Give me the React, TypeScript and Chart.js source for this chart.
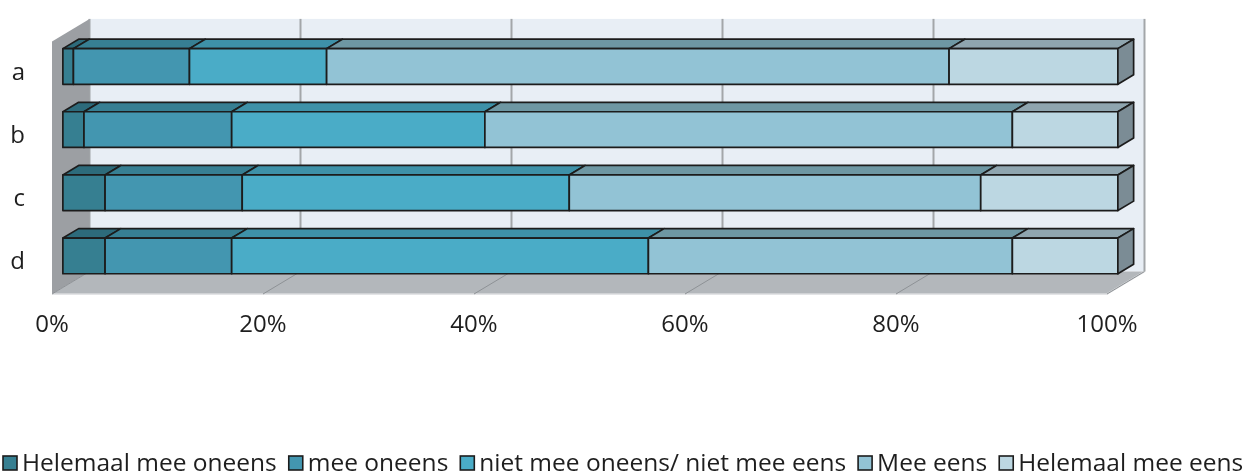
import { useEffect, useRef } from "react";
import { Chart, registerables } from "chart.js";

Chart.register(...registerables);

// Survey statements and answer distribution (percent per statement)
const categories = ["a", "b", "c", "d"];
const seriesNames = [
  "Helemaal mee oneens",
  "mee oneens",
  "niet mee oneens/ niet mee eens",
  "Mee eens",
  "Helemaal mee eens",
];
const helemaalOneens = [1, 2, 4, 4];
const meeOneens = [11, 14, 13, 12];
const neutraal = [13, 24, 31, 39.5];
const meeEens = [59, 50, 39, 34.5];
const helemaalEens = [16, 10, 13, 10];
const xTickValues = [0, 20, 40, 60, 80, 100];

const seriesValues = [helemaalOneens, meeOneens, neutraal, meeEens, helemaalEens];

// Face colours of the 3D boxes
const frontColors = ["#367F91", "#4396B0", "#4AACC7", "#92C3D5", "#BCD7E2"];
const topColors = ["#2D6B7B", "#377F93", "#3E91A8", "#6E97A3", "#8FA5AF"];
const sideColor = "#7B8C95";
const outline = "#1C1C1C";

const FONT = "'Open Sans', 'DejaVu Sans', sans-serif";

// Depth of the 3D plot box, and where the bars sit inside it
const DEPTH = { x: 37.5, y: -22.5 };
const BAR_FRONT = 0.29;
const BAR_DEPTH = 0.42;

const threeDPlugin = {
  id: "threeD",
  beforeDatasetsDraw(chart: any) {
    const { ctx, chartArea } = chart;
    const { left, right, top, bottom } = chartArea;
    const xs = chart.scales.x;
    const dx = DEPTH.x;
    const dy = DEPTH.y;
    ctx.save();
    // back wall
    ctx.fillStyle = "#E8EEF5";
    ctx.fillRect(left + dx, top + dy, right - left, bottom - top);
    // gridlines on the back wall
    ctx.strokeStyle = "#A3A6A9";
    ctx.lineWidth = 2;
    xTickValues.forEach((v) => {
      const px = xs.getPixelForValue(v) + dx;
      ctx.beginPath();
      ctx.moveTo(px, top + dy);
      ctx.lineTo(px, bottom + dy);
      ctx.stroke();
    });
    // left side wall
    ctx.fillStyle = "#9C9FA3";
    ctx.beginPath();
    ctx.moveTo(left, top);
    ctx.lineTo(left + dx, top + dy);
    ctx.lineTo(left + dx, bottom + dy);
    ctx.lineTo(left, bottom);
    ctx.closePath();
    ctx.fill();
    // floor
    ctx.fillStyle = "#B3B7BB";
    ctx.beginPath();
    ctx.moveTo(left, bottom);
    ctx.lineTo(left + dx, bottom + dy);
    ctx.lineTo(right + dx, bottom + dy);
    ctx.lineTo(right, bottom);
    ctx.closePath();
    ctx.fill();
    ctx.strokeStyle = "#DADCDE";
    ctx.lineWidth = 1.5;
    ctx.beginPath();
    ctx.moveTo(left, bottom);
    ctx.lineTo(right, bottom);
    ctx.lineTo(right + dx, bottom + dy);
    ctx.stroke();
    // gridlines on the floor
    ctx.strokeStyle = "#8E9296";
    ctx.lineWidth = 1;
    xTickValues.forEach((v) => {
      const px = xs.getPixelForValue(v);
      ctx.beginPath();
      ctx.moveTo(px, bottom);
      ctx.lineTo(px + dx, bottom + dy);
      ctx.stroke();
    });
    ctx.restore();
  },
  beforeDatasetDraw() {
    // bars are drawn as boxes below
    return false;
  },
  afterDatasetsDraw(chart: any) {
    const { ctx } = chart;
    const fx = DEPTH.x * BAR_FRONT;
    const fy = DEPTH.y * BAR_FRONT;
    const bx = DEPTH.x * BAR_DEPTH;
    const by = DEPTH.y * BAR_DEPTH;
    const nSets = chart.data.datasets.length;
    ctx.save();
    ctx.lineWidth = 1.7;
    ctx.lineJoin = "round";
    ctx.strokeStyle = outline;
    categories.forEach((_, i) => {
      for (let j = 0; j < nSets; j++) {
        const el = chart.getDatasetMeta(j).data[i];
        if (!el) continue;
        const { x, y, base, height } = el.getProps(["x", "y", "base", "height"], true);
        const x0 = Math.min(x, base) + fx;
        const x1 = Math.max(x, base) + fx;
        const t = y - height / 2 + fy;
        const b = y + height / 2 + fy;
        // top face
        ctx.fillStyle = topColors[j];
        ctx.beginPath();
        ctx.moveTo(x0, t);
        ctx.lineTo(x0 + bx, t + by);
        ctx.lineTo(x1 + bx, t + by);
        ctx.lineTo(x1, t);
        ctx.closePath();
        ctx.fill();
        ctx.stroke();
        // front face
        ctx.fillStyle = frontColors[j];
        ctx.beginPath();
        ctx.rect(x0, t, x1 - x0, b - t);
        ctx.fill();
        ctx.stroke();
        // right side of the stack
        if (j === nSets - 1) {
          ctx.fillStyle = sideColor;
          ctx.beginPath();
          ctx.moveTo(x1, t);
          ctx.lineTo(x1 + bx, t + by);
          ctx.lineTo(x1 + bx, b + by);
          ctx.lineTo(x1, b);
          ctx.closePath();
          ctx.fill();
          ctx.stroke();
        }
      }
    });
    ctx.restore();
  },
  afterDraw(chart: any) {
    // legend row
    const { ctx } = chart;
    ctx.save();
    ctx.font = `24.5px ${FONT}`;
    ctx.textBaseline = "middle";
    ctx.textAlign = "left";
    const yMid = 463;
    let px = 3;
    seriesNames.forEach((name, j) => {
      ctx.fillStyle = frontColors[j];
      ctx.fillRect(px, yMid - 7, 14, 14);
      ctx.strokeStyle = outline;
      ctx.lineWidth = 1.6;
      ctx.strokeRect(px, yMid - 7, 14, 14);
      ctx.fillStyle = "#1E1E1E";
      ctx.fillText(name, px + 19, yMid + 1);
      px += 19 + ctx.measureText(name).width + 12;
    });
    ctx.restore();
  },
};

export default function App() {
  const ref = useRef<HTMLCanvasElement>(null);

  useEffect(() => {
    document.body.style.margin = "0";
    const chart = new Chart(ref.current as HTMLCanvasElement, {
      type: "bar",
      data: {
        labels: categories,
        datasets: seriesNames.map((name, j) => ({
          label: name,
          data: seriesValues[j],
          backgroundColor: frontColors[j],
          borderColor: outline,
          borderWidth: 1,
          categoryPercentage: 1,
          barPercentage: 0.565,
        })),
      },
      options: {
        indexAxis: "y",
        responsive: false,
        animation: false,
        layout: { padding: { left: 0, right: 142, top: 39, bottom: 129 } },
        plugins: {
          legend: { display: false },
          tooltip: { enabled: false },
        },
        scales: {
          x: {
            stacked: true,
            min: 0,
            max: 100,
            border: { display: false },
            grid: { display: false, drawTicks: false },
            ticks: {
              stepSize: 20,
              padding: 17,
              color: "#1E1E1E",
              font: { family: FONT, size: 24 },
              callback: (v: any) => `${v}%`,
            },
            afterFit: (s: any) => {
              s.height = 50;
            },
          },
          y: {
            stacked: true,
            border: { display: false },
            grid: { display: false, drawTicks: false },
            ticks: {
              padding: 27,
              color: "#1E1E1E",
              font: { family: FONT, size: 24 },
            },
            afterFit: (s: any) => {
              s.width = 52;
            },
          },
        },
      },
      plugins: [threeDPlugin],
    });
    return () => chart.destroy();
  }, []);

  return <canvas ref={ref} width={1249} height={473} style={{ display: "block" }} />;
}
